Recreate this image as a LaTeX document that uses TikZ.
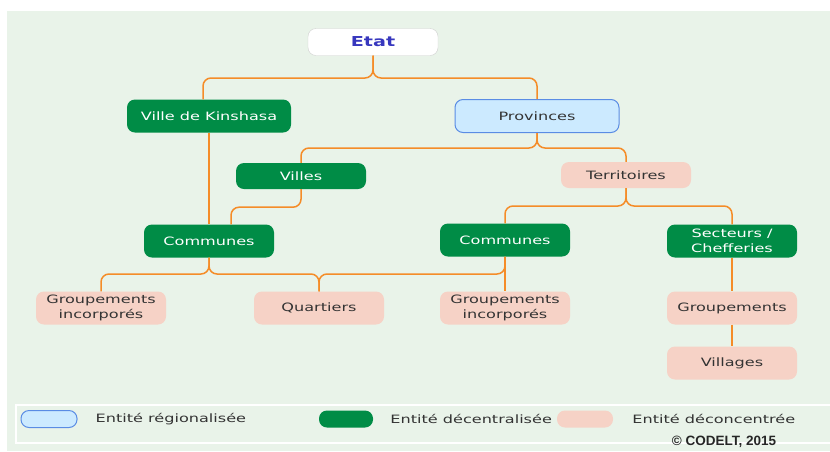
\documentclass[tikz,border=0pt]{standalone}
\usepackage{fontspec}
\setmainfont{DejaVu Sans}[FakeStretch=1.4]
\newfontfamily\creditfont{Liberation Sans}
\usetikzlibrary{positioning}
\definecolor{bgGreen}{RGB}{233,243,233}
\definecolor{decGreen}{RGB}{0,140,70}
\definecolor{decPink}{RGB}{246,210,198}
\definecolor{regBlue}{RGB}{204,234,255}
\definecolor{regBorder}{RGB}{90,140,228}
\definecolor{linkOrange}{RGB}{245,140,40}
\definecolor{etatBlue}{RGB}{55,55,190}
\definecolor{textGray}{RGB}{51,51,51}
\tikzstyle{link} = [draw=linkOrange, line width=1.5pt, rounded corners=8pt]
\tikzstyle{entity} = [rectangle, rounded corners=8pt, minimum width=130pt, minimum height=33pt,
                      inner sep=2pt, align=center, font=\fontsize{11.5}{15}\selectfont]

\begin{document}
\begin{tikzpicture}[x=1pt, y=-1pt]

\tikzset{etatbox/.style = {entity, fill=white, draw=black!18, minimum height=27pt, text=etatBlue,
                           font=\fontsize{13.7}{15}\selectfont\bfseries},
         decentr/.style = {entity, fill=decGreen, text=white},
         deconc/.style  = {entity, fill=decPink, text=textGray},
         region/.style  = {entity, fill=regBlue, draw=regBorder, line width=1pt, text=textGray},
         legendpill/.style = {minimum width=56pt, minimum height=17pt, inner sep=0pt},
         legendtext/.style = {inner sep=0pt, text=textGray, font=\fontsize{11.5}{15}\selectfont}}

\useasboundingbox (0,0) rectangle (830,451);
\fill[white] (0,0) rectangle (830,451);
\fill[bgGreen] (7,11) rectangle (830,451);

% entities
\node[etatbox] (etat) at (373,42) {Etat};
\node[decentr, minimum width=164pt] (kinshasa) at (209,116) {Ville de Kinshasa};
\node[region, minimum width=164pt] (provinces) at (537,116) {Provinces};
\node[decentr, minimum height=26pt] (villes) at (301,176) {Villes};
\node[deconc, minimum height=26pt] (territoires) at (626,175) {Territoires};
\node[decentr] (communesA) at (209,241) {Communes};
\node[decentr] (communesB) at (505,240) {Communes};
\node[decentr] (secteurs) at (732,241) {Secteurs /\\Chefferies};
\node[deconc] (groupA) at (101,308) {Groupements\\incorporés};
\node[deconc] (quartiers) at (319,308) {Quartiers};
\node[deconc] (groupB) at (505,308) {Groupements\\incorporés};
\node[deconc] (groupements) at (732,308) {Groupements};
\node[deconc] (villages) at (732,363) {Villages};

% connectors
\coordinate (forkEtat) at (373,78);
\coordinate (forkProv) at (537,148);
\coordinate (forkTerr) at (626,206);
\coordinate (forkCom) at (209,274);
\draw[link] (etat.south) -- (forkEtat) -| ([xshift=-6pt]kinshasa.north);
\draw[link] (etat.south) -- (forkEtat) -| (provinces.north);
\draw[link] (provinces.south) -- (forkProv) -| (villes.north);
\draw[link] (provinces.south) -- (forkProv) -| (territoires.north);
\draw[link] (kinshasa) -- (communesA);
\draw[link] (villes.south) -- ++(0,18) -| ([xshift=22pt]communesA.north);
\draw[link] (territoires.south) -- (forkTerr) -| (communesB.north);
\draw[link] (territoires.south) -- (forkTerr) -| (secteurs.north);
\draw[link] (communesA.south) -- (forkCom) -| (groupA.north);
\draw[link] (communesA.south) -- (forkCom) -| (quartiers.north);
\draw[link] (communesB.south) -- (communesB.south |- forkCom) -| (quartiers.north);
\draw[link] (communesB) -- (groupB);
\draw[link] (secteurs) -- (groupements);
\draw[link] (groupements) -- (villages);

% legend
\draw[white, line width=2pt] (16,405) rectangle (840,443);
\node[region, legendpill] (legReg) at (49,419) {};
\node[legendtext, right=18pt of legReg] (legRegText) {Entité régionalisée};
\node[decentr, legendpill, minimum width=54pt] (legDec) at (346,419) {};
\node[legendtext, right=17pt of legDec] (legDecText) {Entité décentralisée};
\node[deconc, legendpill] (legCon) at (585,419) {};
\node[legendtext, right=19pt of legCon] (legConText) {Entité déconcentrée};
\node[inner sep=0pt, text=black!85, font=\creditfont\bfseries\fontsize{13.5}{14}\selectfont] (credit) at (724,442) {© CODELT, 2015};

\end{tikzpicture}
\end{document}
